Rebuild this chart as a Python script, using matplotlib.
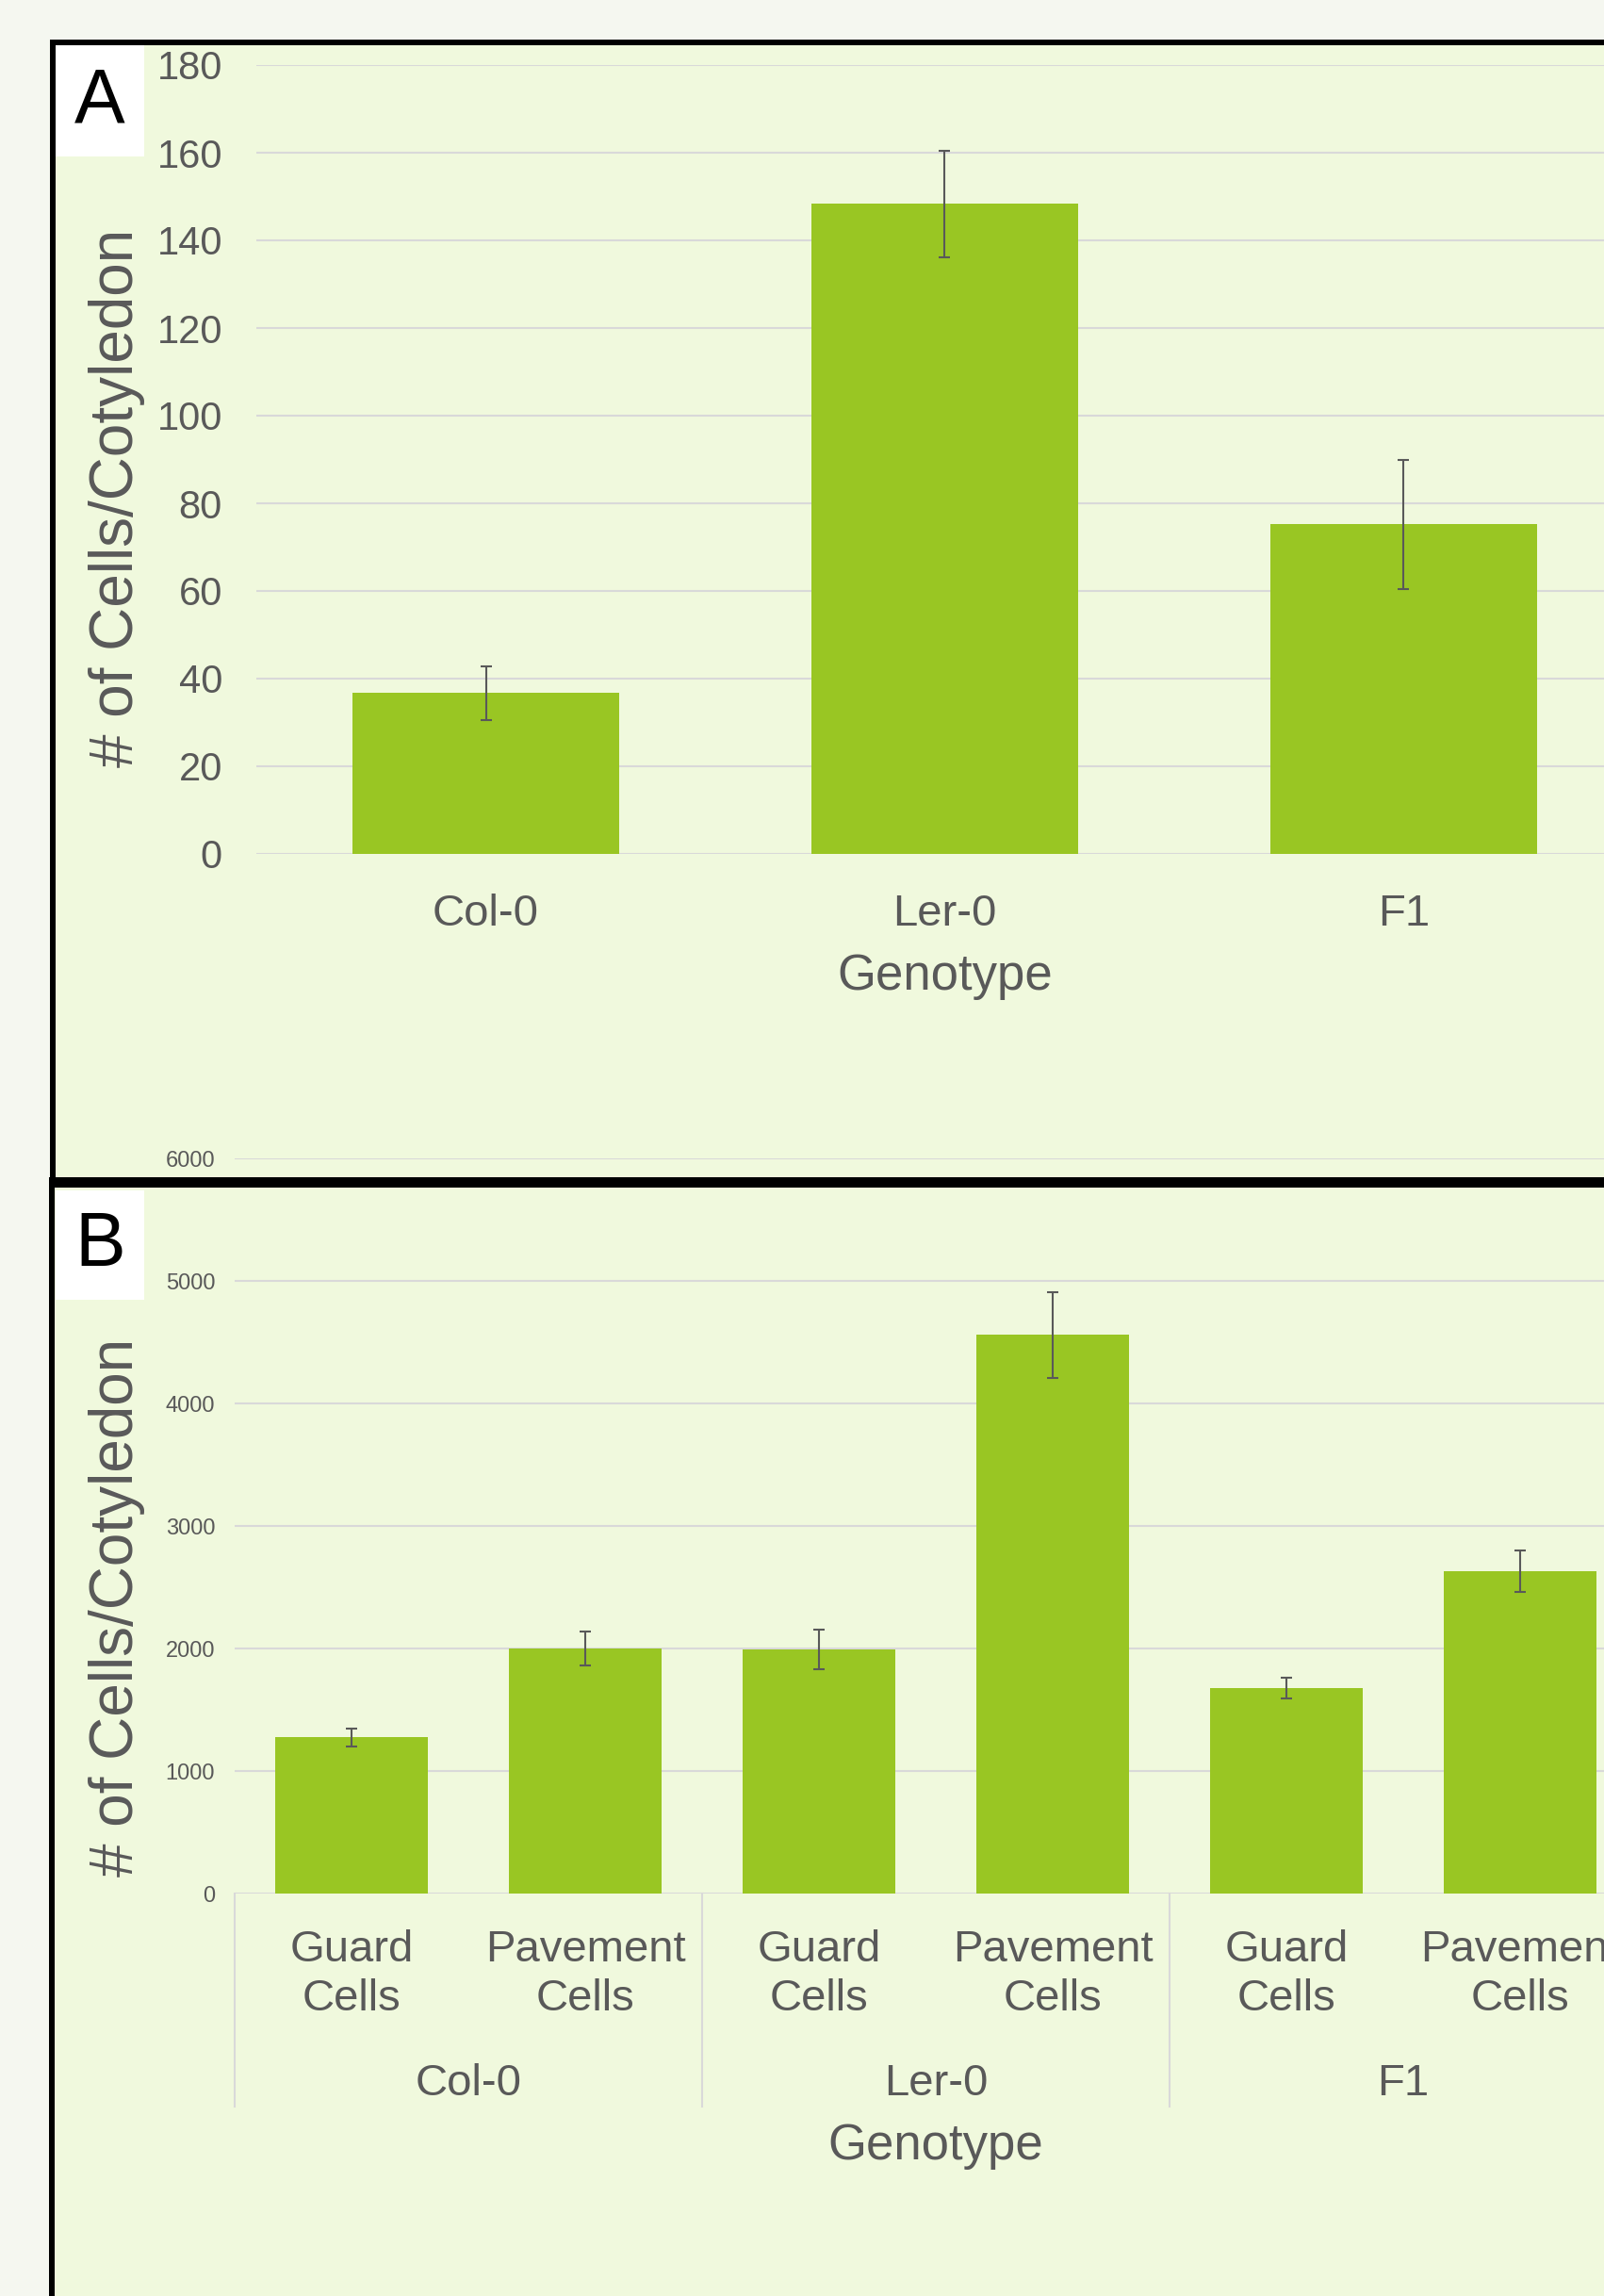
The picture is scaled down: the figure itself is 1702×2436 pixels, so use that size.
import matplotlib
matplotlib.use("Agg")
import matplotlib.pyplot as plt
from matplotlib.patches import Rectangle
from matplotlib.lines import Line2D
from matplotlib.transforms import blended_transform_factory

plt.rcParams['font.family'] = ['Liberation Sans', 'DejaVu Sans']

# Panel A: total cells per cotyledon
genotypes = ['Col-0', 'Ler-0', 'F1']
a_mean = [36.7, 148.3, 75.2]
a_err = [6.1, 12.2, 14.7]

# Panel B: guard vs pavement cells per genotype
cell_types = ['Guard\nCells', 'Pavement\nCells']
b_mean = [1274, 2002, 1992, 4560, 1677, 2632]
b_err = [75, 140, 160, 350, 86, 170]

W, H = 1702, 2436
TXT = '#595959'
GRID = '#D9D9D9'
BAR = '#99C623'
INNER = '#F0F9DD'
OUTER = '#F5F7F0'


def fx(px):
    return px / W


def fy(py):
    return 1 - py / H


def box(x0, y0, x1, y1):
    # pixel box (top-left origin) -> figure fraction rect
    return [fx(x0), fy(y1), fx(x1) - fx(x0), fy(y0) - fy(y1)]


def rect(fig, x0, y0, x1, y1, color, z):
    l, b, w, h = box(x0, y0, x1, y1)
    fig.add_artist(Rectangle((l, b), w, h, transform=fig.transFigure,
                             facecolor=color, edgecolor='none', zorder=z))


fig = plt.figure(figsize=(W / 100, H / 100), dpi=100, facecolor=OUTER)

# panel backgrounds
rect(fig, 53, 42, 1800, 2500, INNER, -10)

# ---- Panel A ----
axA = fig.add_axes(box(272, 69, 1733, 906))
axA.set_facecolor('none')
xa = list(range(len(genotypes)))
axA.bar(xa, a_mean, width=0.58, color=BAR, zorder=2)
axA.errorbar(xa, a_mean, yerr=a_err, fmt='none', ecolor=TXT,
             elinewidth=1.5, capsize=4.3, capthick=1.5, zorder=3)
axA.set_xlim(-0.5, 2.5)
axA.set_ylim(0, 180)
axA.set_yticks(range(0, 181, 20))
axA.yaxis.grid(True, color=GRID, linewidth=1.5, zorder=0)
axA.set_axisbelow(True)
for s in axA.spines.values():
    s.set_visible(False)
axA.tick_params(axis='y', length=0, labelsize=30, pad=26, labelcolor=TXT)
axA.set_xticks(xa)
axA.set_xticklabels(genotypes, fontsize=34, color=TXT)
axA.tick_params(axis='x', length=0, pad=30)
fig.text(fx(1003), fy(1036), 'Genotype', fontsize=38, color=TXT,
         ha='center', va='center')
fig.text(fx(124), fy(528), '# of Cells/Cotyledon', fontsize=46, color=TXT,
         rotation=90, ha='center', va='center')

# ---- Panel B ----
axB = fig.add_axes(box(249, 1229, 1737, 2009))
axB.set_facecolor('none')
xb = list(range(len(b_mean)))
axB.bar(xb, b_mean, width=0.65, color=BAR, zorder=2)
axB.errorbar(xb, b_mean, yerr=b_err, fmt='none', ecolor=TXT,
             elinewidth=1.5, capsize=4.3, capthick=1.5, zorder=3)
axB.set_xlim(-0.5, 5.5)
axB.set_ylim(0, 6000)
axB.set_yticks(range(0, 6001, 1000))
axB.yaxis.grid(True, color=GRID, linewidth=1.5, zorder=0)
axB.set_axisbelow(True)
for s in axB.spines.values():
    s.set_visible(False)
axB.tick_params(axis='y', length=0, labelsize=17, pad=15, labelcolor=TXT)
axB.set_xticks([])

tr = blended_transform_factory(axB.transData, fig.transFigure)
for i in xb:
    axB.text(i, fy(2095), cell_types[i % 2], transform=tr, fontsize=34,
             color=TXT, ha='center', va='center', linespacing=1.25)
for g, name in enumerate(genotypes):
    axB.text(2 * g + 0.5, fy(2211), name, transform=tr, fontsize=34,
             color=TXT, ha='center', va='center')
for xs in [-0.5, 1.5, 3.5, 5.5]:
    axB.add_line(Line2D([xs, xs], [fy(2009), fy(2235)], transform=tr,
                        color=GRID, linewidth=1.5, clip_on=False))
fig.text(fx(993), fy(2277), 'Genotype', fontsize=38, color=TXT,
         ha='center', va='center')
fig.text(fx(124), fy(1705), '# of Cells/Cotyledon', fontsize=46, color=TXT,
         rotation=90, ha='center', va='center')

# frames and panel letters
rect(fig, 53, 42, 1800, 48, 'black', 10)
rect(fig, 53, 42, 59, 1255, 'black', 10)
rect(fig, 52, 1249, 1800, 1260, 'black', 10)
rect(fig, 52, 1249, 58, 2500, 'black', 10)
rect(fig, 59, 48, 153, 166, 'white', 10)
rect(fig, 59, 1263, 153, 1379, 'white', 10)
t1 = fig.text(fx(106), fy(108), 'A', fontsize=58, color='black',
              ha='center', va='center')
t2 = fig.text(fx(106), fy(1322), 'B', fontsize=58, color='black',
              ha='center', va='center')
t1.set_zorder(11)
t2.set_zorder(11)

fig.savefig('out.png', dpi=100, facecolor=OUTER)
